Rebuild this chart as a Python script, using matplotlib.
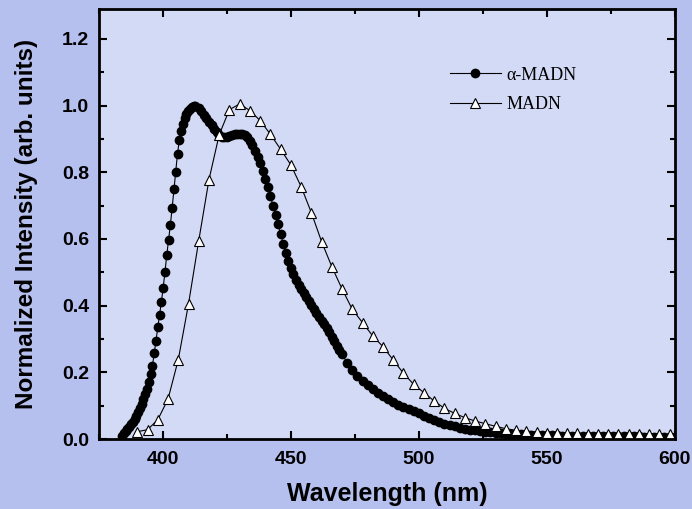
import numpy as np
import matplotlib
matplotlib.use("Agg")
import matplotlib.pyplot as plt
from matplotlib.ticker import MultipleLocator

# alpha-MADN spectrum (0.7 nm in the rise, 1 nm up to 470 nm, then 2 nm)
wl_alpha = np.concatenate([np.arange(384.0, 413.0, 0.7),
                           np.arange(414, 471, 1),
                           np.arange(472, 601, 2)])
int_alpha = [
    # 384 - 412.7 nm
    0.010, 0.017, 0.024, 0.030, 0.037, 0.045, 0.052, 0.061, 0.069, 0.080,
    0.093, 0.105, 0.120, 0.135, 0.151, 0.171, 0.195, 0.220, 0.257, 0.295,
    0.336, 0.373, 0.411, 0.454, 0.501, 0.552, 0.598, 0.642, 0.693, 0.749,
    0.802, 0.856, 0.896, 0.923, 0.945, 0.962, 0.974, 0.984, 0.991, 0.996,
    1.000, 1.000,
    # 414 - 470 nm
    0.992, 0.984, 0.973, 0.962, 0.952, 0.941, 0.930, 0.920, 0.912,
    0.907, 0.906, 0.907, 0.909, 0.912, 0.914, 0.916, 0.916, 0.915, 0.912,
    0.905, 0.895, 0.881, 0.864, 0.846, 0.827, 0.804, 0.781, 0.757, 0.728,
    0.700, 0.672, 0.644, 0.614, 0.586, 0.559, 0.535, 0.513, 0.494, 0.477,
    0.462, 0.449, 0.437, 0.425, 0.413, 0.401, 0.389, 0.377, 0.366, 0.355,
    0.344, 0.333, 0.320, 0.307, 0.293, 0.280, 0.267, 0.254,
    # 472 - 600 nm
    0.229, 0.207, 0.189, 0.174, 0.161, 0.149, 0.138, 0.129, 0.120, 0.111,
    0.103, 0.097, 0.091, 0.085, 0.077, 0.069, 0.062, 0.056, 0.051, 0.046,
    0.042, 0.038, 0.034, 0.031, 0.028, 0.026, 0.024, 0.022, 0.020, 0.019,
    0.018, 0.016, 0.015, 0.014, 0.014, 0.013, 0.013, 0.012, 0.012, 0.011,
    0.011, 0.011, 0.010, 0.010, 0.010, 0.010, 0.009, 0.009, 0.009, 0.009,
    0.009, 0.008, 0.008, 0.008, 0.008, 0.008, 0.008, 0.008, 0.007, 0.007,
    0.007, 0.007, 0.007, 0.007, 0.007,
]

# MADN spectrum (every 4 nm)
wl_madn = np.arange(390, 601, 4)
int_madn = [
    0.022, 0.028, 0.058, 0.120, 0.238, 0.405, 0.595, 0.778, 0.913, 0.988,
    1.005, 0.985, 0.955, 0.914, 0.869, 0.822, 0.757, 0.679, 0.592, 0.517,
    0.450, 0.389, 0.349, 0.309, 0.277, 0.237, 0.197, 0.164, 0.139, 0.114,
    0.092, 0.077, 0.064, 0.054, 0.046, 0.038, 0.031, 0.026, 0.024, 0.021,
    0.019, 0.018, 0.017, 0.017, 0.016, 0.016, 0.016, 0.015, 0.015, 0.015,
    0.015, 0.015, 0.015,
]

labels = ["\u03b1-MADN", "MADN"]

sans = ["Liberation Sans", "DejaVu Sans"]
serif = ["Liberation Serif", "DejaVu Serif"]

fig = plt.figure(figsize=(6.92, 5.09), dpi=100, facecolor="#b6c0ef")
ax = fig.add_axes([0.143, 0.1375, 0.832, 0.845])
ax.set_facecolor("#d3daf5")

ax.plot(wl_alpha, int_alpha, color="black", lw=0.8, marker="o", ms=6.0,
        mfc="black", mec="black", label=labels[0])
ax.plot(wl_madn, int_madn, color="black", lw=0.8, marker="^", ms=7,
        mfc="white", mec="black", mew=0.8, label=labels[1])

ax.set_xlim(375, 600)
ax.set_ylim(0, 1.29)

ax.xaxis.set_major_locator(MultipleLocator(50))
ax.xaxis.set_minor_locator(MultipleLocator(25))
ax.yaxis.set_major_locator(MultipleLocator(0.2))
ax.yaxis.set_minor_locator(MultipleLocator(0.1))
ax.yaxis.set_major_formatter(plt.FormatStrFormatter("%.1f"))

for s in ax.spines.values():
    s.set_linewidth(2.0)

ax.tick_params(which="both", direction="in", top=True, right=True, width=1.5)
ax.tick_params(which="major", length=6)
ax.tick_params(which="minor", length=3.5)
ax.tick_params(axis="y", pad=7)
ax.tick_params(axis="x", pad=8.5)

for lab in ax.get_xticklabels() + ax.get_yticklabels():
    lab.set_family(sans)
    lab.set_fontweight("bold")
    lab.set_fontsize(14)

ax.set_xlabel("Wavelength (nm)", family=sans, fontweight="bold", fontsize=18, labelpad=10)
ax.set_ylabel("Normalized Intensity (arb. units)", family=sans, fontweight="bold",
              fontsize=17.5, labelpad=17)

leg = ax.legend(loc="upper left", bbox_to_anchor=(0.594, 0.887), frameon=False,
                prop={"family": serif, "size": 13}, handlelength=2.8,
                handletextpad=0.35, borderpad=0, labelspacing=0.7)

fig.savefig("out.png", dpi=100)
